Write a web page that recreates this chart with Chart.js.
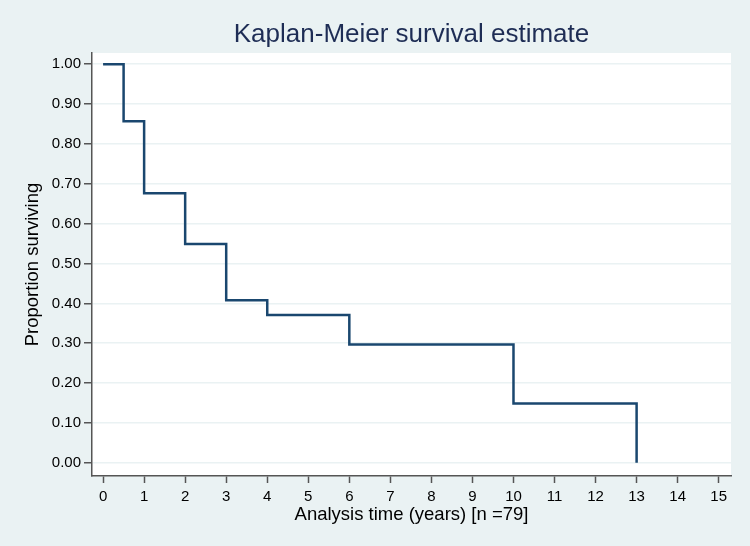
<!DOCTYPE html>
<html lang="en">
  <head>
    <meta charset="UTF-8" />
    <title>Kaplan-Meier survival estimate</title>
    <style>
      * { margin: 0; padding: 0; box-sizing: border-box; }
      body { background: #eaf2f3; }
      #grafico { width: 750px; height: 546px; }
    </style>
  </head>
  <body>
    <div id="grafico">
      <canvas id="km"></canvas>
    </div>

    <script src="https://cdn.jsdelivr.net/npm/chart.js"></script>
    <script>
      const tempos = [0, 0.5, 1, 2, 3, 4, 6, 10, 13]
      const sobrevivencia = [1.0, 0.857, 0.676, 0.549, 0.408, 0.371, 0.297, 0.149, 0.0]
      const xTicks = [0, 1, 2, 3, 4, 5, 6, 7, 8, 9, 10, 11, 12, 13, 14, 15]
      const yTicks = [0, 0.1, 0.2, 0.3, 0.4, 0.5, 0.6, 0.7, 0.8, 0.9, 1.0]

      const fonte = "'Liberation Sans', Arial, sans-serif"
      const corEixo = '#555555'

      // white plot area + title centered over it
      const fundo = {
        id: 'fundo',
        beforeDraw(chart) {
          const { ctx, chartArea: a } = chart
          ctx.save()
          ctx.fillStyle = '#ffffff'
          ctx.fillRect(a.left, a.top, a.right - a.left, a.bottom - a.top)
          ctx.restore()
        },
        afterDraw(chart) {
          const { ctx, chartArea: a } = chart
          ctx.save()
          ctx.fillStyle = '#1e2d55'
          ctx.font = '26px ' + fonte
          ctx.textAlign = 'center'
          ctx.textBaseline = 'middle'
          ctx.fillText('Kaplan-Meier survival estimate', (a.left + a.right) / 2, 35)
          ctx.restore()
        }
      }

      const ctx = document.getElementById('km')

      new Chart(ctx, {
        type: 'line',
        data: {
          datasets: [{
            data: tempos.map((t, i) => ({ x: t, y: sobrevivencia[i] })),
            stepped: 'before',
            borderColor: '#1a476f',
            borderWidth: 2.5,
            pointRadius: 0,
            fill: false
          }]
        },
        options: {
          responsive: true,
          maintainAspectRatio: false,
          animation: false,
          layout: { padding: { top: 53, right: 19, left: 0, bottom: 0 } },
          plugins: {
            legend: { display: false },
            tooltip: { enabled: false }
          },
          scales: {
            x: {
              type: 'linear',
              min: -0.27,
              max: 15.3,
              afterBuildTicks: s => { s.ticks = xTicks.map(v => ({ value: v })) },
              afterFit: s => { s.height = 70 },
              ticks: {
                color: '#000',
                font: { family: fonte, size: 15 },
                padding: 5,
                maxRotation: 0,
                autoSkip: false
              },
              grid: {
                drawOnChartArea: false,
                tickLength: 7,
                tickColor: corEixo,
                tickWidth: 1.5
              },
              border: { color: corEixo, width: 1.5 },
              title: {
                display: true,
                text: 'Analysis time (years) [n =79]',
                color: '#000',
                font: { family: fonte, size: 18.5 },
                padding: { top: 0, bottom: 20 }
              }
            },
            y: {
              min: -0.033,
              max: 1.028,
              afterBuildTicks: s => { s.ticks = yTicks.map(v => ({ value: v })) },
              afterFit: s => { s.width = 92 },
              ticks: {
                color: '#000',
                font: { family: fonte, size: 15 },
                padding: 3,
                callback: v => Number(v).toFixed(2)
              },
              grid: {
                color: '#eaf2f3',
                lineWidth: 1.5,
                tickLength: 8,
                tickColor: corEixo,
                tickWidth: 1.5
              },
              border: { color: corEixo, width: 1.5 },
              title: {
                display: true,
                text: 'Proportion surviving',
                color: '#000',
                font: { family: fonte, size: 18.5 },
                padding: { top: 22, bottom: 0 }
              }
            }
          }
        },
        plugins: [fundo]
      })
    </script>
  </body>
</html>
